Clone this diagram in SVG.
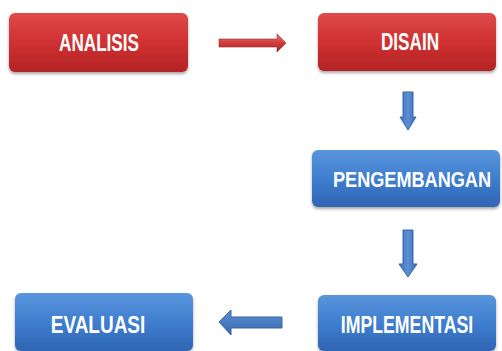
<svg xmlns="http://www.w3.org/2000/svg" width="502" height="351" viewBox="0 0 502 351">
<defs>
<linearGradient id="gr" x1="0" y1="0" x2="0" y2="1">
<stop offset="0" stop-color="#e14a4a"/>
<stop offset="0.5" stop-color="#cf3131"/>
<stop offset="1" stop-color="#b32426"/>
</linearGradient>
<linearGradient id="gb" x1="0" y1="0" x2="0" y2="1">
<stop offset="0" stop-color="#5a95dc"/>
<stop offset="0.5" stop-color="#3f7ecf"/>
<stop offset="1" stop-color="#2f65b4"/>
</linearGradient>
<linearGradient id="ar" x1="0" y1="0" x2="0" y2="1">
<stop offset="0" stop-color="#e67a7a"/>
<stop offset="0.5" stop-color="#d23a3a"/>
<stop offset="1" stop-color="#a82424"/>
</linearGradient>
<linearGradient id="abv" x1="0" y1="0" x2="1" y2="0">
<stop offset="0" stop-color="#3f72bb"/>
<stop offset="0.5" stop-color="#5b8fd6"/>
<stop offset="1" stop-color="#3a6ab0"/>
</linearGradient>
<linearGradient id="abh" x1="0" y1="0" x2="0" y2="1">
<stop offset="0" stop-color="#5b8fd6"/>
<stop offset="1" stop-color="#3a6ab0"/>
</linearGradient>
<filter id="sh" x="-10%" y="-10%" width="120%" height="130%">
<feGaussianBlur in="SourceAlpha" stdDeviation="1.5"/>
<feOffset dy="2"/>
<feComponentTransfer><feFuncA type="linear" slope="0.35"/></feComponentTransfer>
<feMerge><feMergeNode/><feMergeNode in="SourceGraphic"/></feMerge>
</filter>
</defs>
<style>
.red{fill:url(#gr);filter:url(#sh)}
.blue{fill:url(#gb);filter:url(#sh)}
.t{font-family:"Liberation Sans",Arial,sans-serif;font-weight:bold;font-size:23px;fill:#ffffff;text-anchor:middle}
.arv{fill:url(#abv);stroke:#3a65a5;stroke-width:1}
.arh{fill:url(#abh);stroke:#3a65a5;stroke-width:1}
.arr{fill:url(#ar);stroke:#9a2a2a;stroke-width:0.6}
</style>
<rect width="502" height="351" fill="#ffffff"/>
<g id="analisis">
<rect class="red" x="9" y="13" width="179" height="59" rx="6"/>
<text class="t" transform="translate(99,51) scale(0.745,1)">ANALISIS</text>
</g>
<g id="disain">
<rect class="red" x="318" y="13" width="178" height="58" rx="6"/>
<text class="t" transform="translate(410,50) scale(0.745,1)">DISAIN</text>
</g>
<g id="pengembangan">
<rect class="blue" x="312" y="150" width="188" height="57" rx="6"/>
<text class="t" transform="translate(412,187) scale(0.788,1)">PENGEMBANGAN</text>
</g>
<g id="implementasi">
<rect class="blue" x="318" y="295" width="178" height="56" rx="6"/>
<text class="t" transform="translate(407,333) scale(0.771,1)">IMPLEMENTASI</text>
</g>
<g id="evaluasi">
<rect class="blue" x="15" y="293" width="178" height="58" rx="6"/>
<text class="t" transform="translate(98,333) scale(0.826,1)">EVALUASI</text>
</g>
<g id="connectors">
<path class="arr" d="M219,39 L277,39 L277,34 L286,43 L277,52 L277,47 L219,47 Z"/>
<path class="arv" d="M403,92 L413,92 L413,117 L416,117 L408,130 L400,117 L403,117 Z"/>
<path class="arv" d="M403,230 L413,230 L413,264 L417,264 L408,277 L399,264 L403,264 Z"/>
<path class="arh" d="M282,317 L282,328 L231,328 L231,335 L219,322 L231,310 L231,317 Z"/>
</g>
</svg>
